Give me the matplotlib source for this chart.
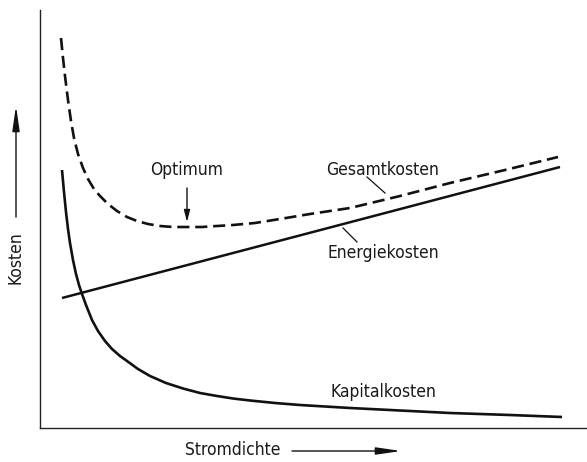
import matplotlib
matplotlib.use("Agg")
import matplotlib.pyplot as plt

# Energiekosten (linear)
energie_x = [22, 520]
energie_y = [130, 261]

# Kapitalkosten (hyperbolic decline)
kapital_x = [22, 24, 26, 28, 30, 33, 36, 39, 42, 46, 52, 58, 65, 72, 80, 87, 98, 110, 126, 143, 160, 177, 193, 210, 235, 260, 310, 360, 410, 470, 522]
kapital_y = [258, 236, 216, 199, 185, 168, 154, 143, 134, 123, 108, 97, 87, 79, 72, 67, 59, 52, 45, 39.5, 35, 32, 29.5, 27.5, 25, 23, 20, 17.5, 15, 13, 11]

# Gesamtkosten (dashed)
gesamt_x = [21, 23, 25, 28, 31, 34, 38, 43, 48, 54, 60, 68, 77, 87, 97, 108, 120, 133, 147, 162, 177, 193, 215, 240, 270, 310, 360, 410, 465, 518]
gesamt_y = [390, 370, 352, 328, 307, 290, 274, 260, 249, 239, 232, 224, 217, 211, 207, 204, 202, 201, 201, 201, 202, 203, 205, 209, 214, 220, 232, 245, 258, 271]

txt_optimum = "Optimum"
txt_gesamt = "Gesamtkosten"
txt_energie = "Energiekosten"
txt_kapital = "Kapitalkosten"
txt_xlabel = "Stromdichte"
txt_ylabel = "Kosten"

font = dict(family="DejaVu Sans", stretch="condensed", fontsize=12.5, color="#1a1a1a")

fig = plt.figure(figsize=(5.87, 4.62), dpi=100)
ax = fig.add_axes([40/587, 34/462, 547/587, 418/462])
ax.set_xlim(0, 547)
ax.set_ylim(0, 418)
for s in ["top", "right"]:
    ax.spines[s].set_visible(False)
for s in ["left", "bottom"]:
    ax.spines[s].set_linewidth(1.0)
    ax.spines[s].set_color("#222222")
ax.set_xticks([])
ax.set_yticks([])

lc = "#111111"
ax.plot(energie_x, energie_y, color=lc, lw=1.8, solid_capstyle="butt")
ax.plot(kapital_x, kapital_y, color=lc, lw=1.9, solid_capstyle="butt", solid_joinstyle="round")
ax.plot(gesamt_x, gesamt_y, color=lc, lw=1.9, dashes=(4.6, 2.2), dash_joinstyle="round")

# curve labels
ax.text(147, 258, txt_optimum, ha="center", va="center", **font)
ax.annotate("", xy=(147, 206), xytext=(147, 240),
            arrowprops=dict(arrowstyle="-|>,head_length=0.7,head_width=0.18",
                            color=lc, lw=1.0, shrinkA=0, shrinkB=0))

ax.text(343, 258, txt_gesamt, ha="center", va="center", **font)
ax.plot([327, 345], [251, 235], color=lc, lw=0.9)

ax.text(343, 175, txt_energie, ha="center", va="center", **font)
ax.plot([303, 317], [200, 186], color=lc, lw=0.9)

ax.text(343, 36, txt_kapital, ha="center", va="center", **font)

# axis labels with arrows (figure pixel coordinates, origin bottom-left)
H = 462
fig.text(233/587, 1 - 450/H, txt_xlabel, ha="center", va="center", **font)
ax.annotate("", xy=(401, H - 451), xytext=(292, H - 451),
            xycoords="figure pixels", textcoords="figure pixels", annotation_clip=False,
            arrowprops=dict(arrowstyle="-|>,head_length=1.5,head_width=0.22",
                            color=lc, lw=1.0, shrinkA=0, shrinkB=0))

fig.text(16/587, 1 - 258/H, txt_ylabel, ha="center", va="center", rotation=90, **font)
ax.annotate("", xy=(16, H - 106), xytext=(16, H - 217),
            xycoords="figure pixels", textcoords="figure pixels", annotation_clip=False,
            arrowprops=dict(arrowstyle="-|>,head_length=1.5,head_width=0.22",
                            color=lc, lw=1.0, shrinkA=0, shrinkB=0))

fig.savefig("out.png", dpi=100, facecolor="white")
